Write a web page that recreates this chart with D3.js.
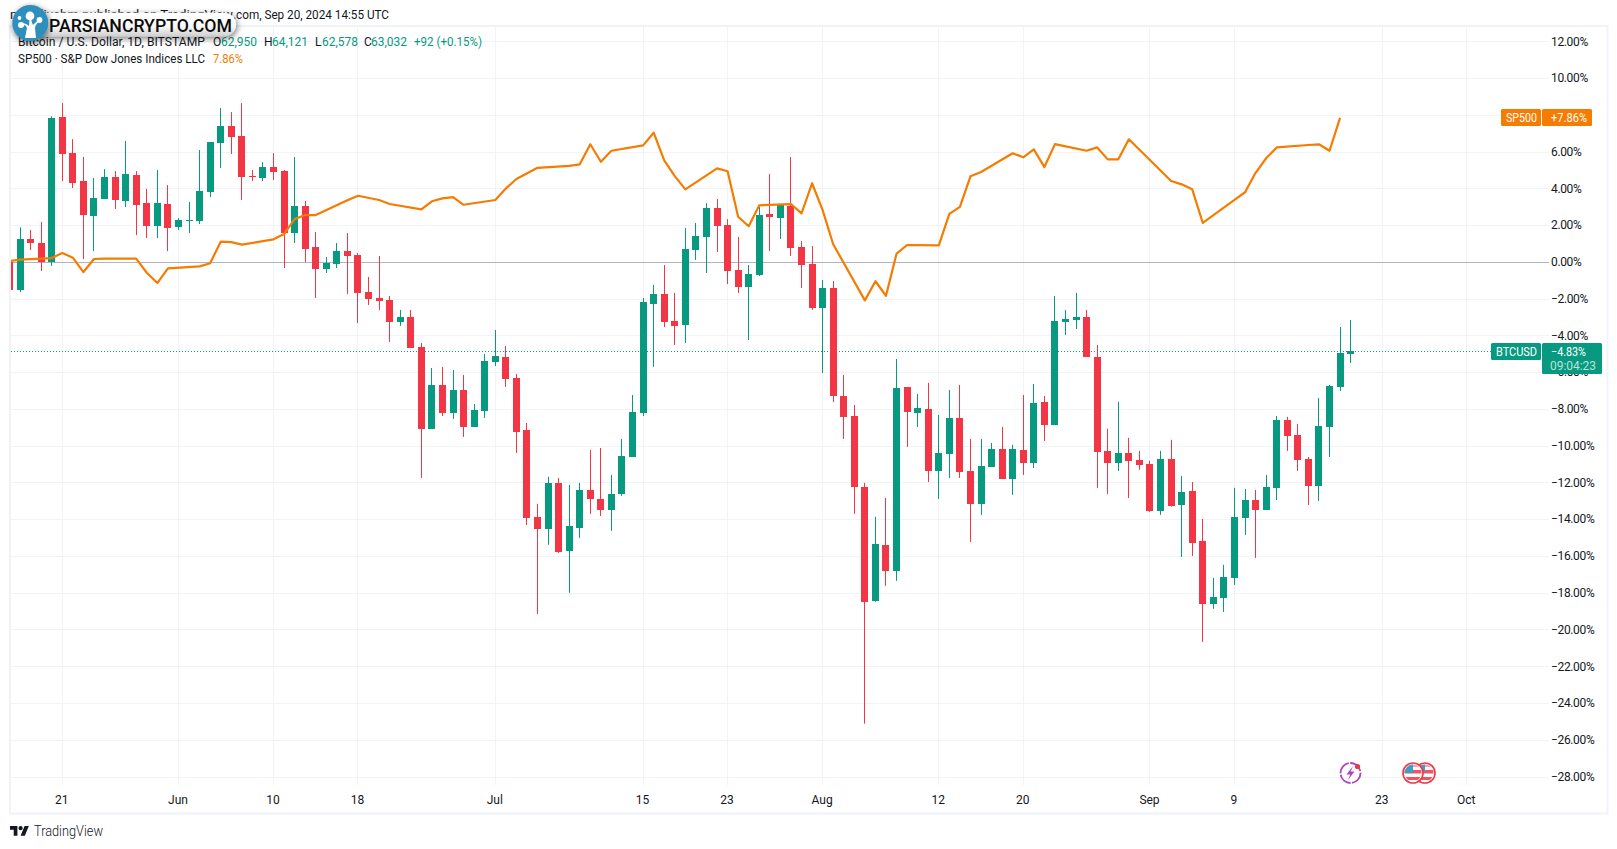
<!DOCTYPE html>
<html><head><meta charset="utf-8">
<script src="https://cdn.jsdelivr.net/npm/d3@7/dist/d3.min.js"></script>
<style>
html,body{margin:0;padding:0;background:#fff;overflow:hidden}
svg{display:block}
text{font-family:Roboto,"Liberation Sans",sans-serif;fill:#131722;font-size:12px}
</style></head><body>
<svg id="c" width="1617" height="849"></svg>
<script>
// ---- data (percent change from the first visible bar) ----
const firstDay = "2024-05-16";
const bodyTops = [0,1.27,1.27,1.05,7.85,7.9,5.94,4.42,3.5,4.64,4.64,4.8,4.75,3.22,3.22,3.17,2.3,2.3,3.88,6.54,7.41,7.41,6.87,4.69,5.18,5.18,4.96,3.06,3.06,0.83,-0.04,0.61,0.61,0.4,-1.62,-1.94,-2.05,-2.97,-2.97,-4.61,-6.67,-6.67,-6.94,-6.94,-8.03,-5.37,-5.1,-5.15,-6.29,-9.12,-13.85,-12,-12,-14.34,-12.38,-12.38,-12.87,-12.6,-10.53,-8.14,-2.16,-1.72,-1.72,-3.19,0.72,1.43,2.95,2.95,2.03,-0.42,-0.64,2.57,2.63,3.12,3.06,0.83,-0.09,-1.4,-1.4,-7.27,-8.36,-12.22,-15.32,-15.37,-6.84,-6.78,-7.92,-7.98,-10.37,-8.47,-8.47,-11.35,-11.08,-10.15,-10.15,-10.15,-10.21,-7.65,-7.6,-3.19,-3.08,-2.97,-2.97,-5.15,-10.26,-10.37,-10.37,-10.75,-10.97,-10.7,-10.7,-12.49,-12.44,-15.16,-18.2,-17.11,-13.85,-12.93,-12.93,-12.22,-8.58,-8.58,-9.39,-10.7,-8.9,-6.73,-4.93,-4.83];
const bodyBottoms = [-1.51,-1.51,1.05,0.02,0.02,5.89,4.31,2.57,2.52,3.44,3.39,3.33,3.12,1.97,1.97,1.87,1.92,2.25,2.25,3.82,6.49,6.81,4.64,4.64,4.58,4.91,1.59,1.59,0.72,-0.36,-0.36,-0.09,0.34,-1.67,-2,-2.09,-3.25,-3.25,-4.66,-9.06,-9.06,-8.2,-8.2,-8.96,-8.96,-8.09,-5.42,-6.35,-9.23,-13.9,-14.5,-14.5,-15.75,-15.7,-14.45,-12.87,-13.47,-13.47,-12.6,-10.59,-8.2,-2.27,-3.25,-3.46,-3.41,0.67,1.38,1.97,-0.47,-1.34,-1.34,-0.69,2.46,2.41,0.78,-0.15,-2.49,-2.49,-7.27,-8.41,-12.22,-18.47,-18.42,-16.79,-16.79,-8.14,-8.2,-11.35,-11.35,-10.42,-11.4,-13.14,-13.14,-11.13,-11.78,-11.78,-10.91,-10.91,-8.85,-8.85,-3.25,-3.14,-5.15,-10.32,-10.91,-10.91,-10.8,-11.02,-13.52,-13.52,-13.25,-13.2,-15.26,-18.58,-18.58,-18.25,-17.17,-13.9,-13.47,-13.47,-12.27,-9.45,-10.75,-12.17,-12.17,-8.96,-6.78,-4.99];
const highs = [0,1.9,1.76,2.19,7.94,8.66,6.7,5.73,4.58,5.07,4.96,6.6,4.96,3.99,5.02,4.2,2.41,3.28,6.11,6.54,8.39,8.17,8.66,5.02,5.45,5.94,5.02,5.73,3.33,1.65,0.29,1.05,1.59,0.51,-0.8,0.34,-1.83,-2.59,-2.59,-4.39,-5.75,-5.69,-5.86,-6.13,-7.71,-4.99,-3.68,-4.55,-6.07,-8.74,-13.14,-11.67,-11.73,-12.11,-12,-10.21,-10.1,-11.57,-9.61,-7.22,-1.94,-1.23,-0.15,-1.67,1.87,2.14,3.22,3.44,2.35,1.38,-0.15,3.01,4.8,3.17,5.73,1.16,0.89,-0.96,-1.02,-6.13,-7.76,-12,-13.85,-12.82,-5.26,-6.78,-7.16,-6.56,-8.3,-6.94,-6.67,-9.61,-9.61,-9.83,-8.96,-9.93,-7.22,-6.62,-7.27,-1.83,-2.59,-1.67,-2.59,-4.5,-9.06,-7.6,-9.55,-10.26,-10.8,-10.26,-9.66,-11.62,-11.95,-13.96,-17.17,-16.46,-12.27,-12.33,-12.38,-11.57,-8.36,-8.41,-8.79,-10.59,-7.38,-6.67,-3.52,-3.14];
const lows = [-1.51,-1.62,0.67,-0.47,-0.2,4.42,4.04,0.18,0.61,3.44,2.9,3.01,1.48,1.32,1.32,0.61,1.76,1.59,2.08,3.55,5.13,5.89,3.39,4.42,4.42,4.48,-0.31,1.05,0.02,-1.94,-0.58,-0.31,-1.72,-3.3,-2.32,-2.59,-4.33,-3.46,-4.66,-11.73,-9.06,-8.36,-8.52,-9.5,-8.96,-8.47,-5.64,-6.78,-10.37,-14.29,-19.13,-15.37,-15.81,-17.98,-14.99,-13.69,-13.8,-14.61,-12.71,-10.59,-8.36,-5.69,-3.52,-4.5,-4.39,0.13,-0.58,0.56,-1.18,-1.67,-4.23,-0.75,0.61,1.27,0.34,-1.4,-2.59,-6.02,-7.6,-9.61,-13.69,-25.1,-18.47,-17.6,-17.33,-10.04,-8.96,-11.95,-12.87,-11.73,-11.73,-15.21,-13.74,-11.13,-11.78,-12.65,-11.57,-11.19,-9.72,-8.85,-3.95,-3.63,-5.15,-12.27,-12.6,-11.35,-12.82,-11.29,-13.58,-13.74,-13.3,-16.03,-15.97,-20.65,-18.85,-19.02,-17.55,-14.83,-16.08,-13.47,-12.93,-10.26,-11.35,-13.2,-12.98,-10.59,-7,-5.48];
const rising = [0,1,0,0,1,0,0,0,1,1,0,1,0,0,1,0,1,1,1,1,1,0,0,0,1,0,0,1,0,0,1,1,0,0,0,0,0,1,0,0,1,0,1,0,1,1,1,0,0,0,0,1,0,1,1,0,0,1,1,1,1,1,0,0,1,1,1,0,0,0,1,1,0,1,0,0,0,1,0,0,0,0,1,0,1,0,1,0,1,1,0,0,1,1,0,1,0,1,0,1,1,1,0,0,0,1,0,0,0,1,0,1,0,0,1,1,1,1,0,1,1,0,0,0,1,1,1,1];
const spxDays = [0,1,4,5,6,7,8,9,12,13,14,15,18,19,20,21,22,25,26,27,28,29,32,33,35,36,39,40,41,42,43,46,47,48,50,53,54,55,56,57,60,61,62,63,64,67,68,69,70,71,74,75,76,77,78,81,82,83,84,85,88,89,90,91,92,95,96,97,98,99,102,103,104,105,106,110,111,112,113,116,117,118,119,120,123,124,125,126];
const spxValues = [0.07,0.15,0.23,0.51,0.25,-0.53,0.18,0.2,0.2,-0.57,-1.13,-0.33,-0.22,-0.05,1.12,1.1,0.96,1.25,1.54,2.35,2.57,2.57,3.37,3.62,3.39,3.17,2.88,3.32,3.48,3.55,3.13,3.39,4.01,4.53,5.14,5.25,5.33,6.42,5.47,6.07,6.36,7.05,5.55,4.69,3.97,5.11,4.95,2.48,1.96,3.1,3.17,2.66,4.3,2.84,0.98,-2.07,-1.03,-1.82,0.47,0.94,0.92,2.63,3.02,4.68,4.91,5.93,5.71,6.14,5.18,6.43,6.07,6.25,5.6,5.6,6.69,4.42,4.24,3.97,2.14,3.4,3.81,4.87,5.66,6.25,6.38,6.42,6.07,7.86];
const yTicks = [12,10,6,4,2,0,-2,-4,-6,-8,-10,-12,-14,-16,-18,-20,-22,-24,-26,-28,8];
const timeTicks = ["2024-05-21","2024-06-01","2024-06-10","2024-06-18","2024-07-01","2024-07-15","2024-07-23","2024-08-01","2024-08-12","2024-08-20","2024-09-01","2024-09-09","2024-09-23","2024-10-01"];
const timeLabels = ["21","Jun","10","18","Jul","15","23","Aug","12","20","Sep","9","23","Oct"];
const ohlcLabels = ["O","62,950","H","64,121","L","62,578","C","63,032"];
const lastBtc = -4.83, lastSpx = 7.86;

// ---- layout ----
const UP="#089981", DOWN="#f23645", ORANGE="#f57c00", GRID="#f1f3f6", FRAME="#f0f3fa";
const svg=d3.select("#c");
const plot={l:11,t:27,r:1549,b:785};
const day=i=>d3.utcDay.offset(new Date(firstDay+"T00:00:00Z"),i);
const x=d3.scaleUtc().domain([day(0),day(138)]).range([9.5,1466.8]);
const y=d3.scaleLinear().domain([0,-28]).range([262.3,777]);
const px=v=>Math.floor(v)+.5;
const fmt=v=>(v<0?"\u2212":"")+Math.abs(v).toFixed(2)+"%";

svg.append("defs").append("clipPath").attr("id","plot").append("rect")
  .attr("x",plot.l).attr("y",plot.t).attr("width",plot.r-plot.l).attr("height",plot.b-plot.t);
const pillFilter=svg.select("defs").append("filter").attr("id","sh").attr("x","-10%").attr("y","-60%").attr("width","120%").attr("height","220%");
pillFilter.append("feDropShadow").attr("dx",1).attr("dy",2).attr("stdDeviation",3).attr("flood-color","#000").attr("flood-opacity",.55);
const grad=svg.select("defs").append("linearGradient").attr("id","pg").attr("x1",0).attr("y1",0).attr("x2",0).attr("y2",1);
grad.append("stop").attr("offset",0).attr("stop-color","#ffffff");
grad.append("stop").attr("offset",.6).attr("stop-color","#f8f8f8");
grad.append("stop").attr("offset",1).attr("stop-color","#cfcfcf");

// grid
const g=svg.append("g").attr("clip-path","url(#plot)");
g.selectAll(".h").data(yTicks.filter(d=>d!==0)).join("line").attr("x1",plot.l).attr("x2",plot.r)
  .attr("y1",d=>px(y(d))).attr("y2",d=>px(y(d))).attr("stroke",GRID);
g.selectAll(".v").data(timeTicks).join("line").attr("y1",plot.t).attr("y2",plot.b)
  .attr("x1",d=>px(x(new Date(d+"T00:00:00Z")))).attr("x2",d=>px(x(new Date(d+"T00:00:00Z")))).attr("stroke",GRID);
g.append("line").attr("x1",plot.l).attr("x2",plot.r).attr("y1",px(y(0))).attr("y2",px(y(0))).attr("stroke","#b2b5be");
g.append("line").attr("x1",plot.l).attr("x2",1491).attr("y1",px(y(lastBtc))).attr("y2",px(y(lastBtc)))
  .attr("stroke",UP).attr("stroke-dasharray","1 2");

// candles
const cg=g.append("g");
const idx=d3.range(bodyTops.length);
cg.selectAll(".w").data(idx).join("line")
  .attr("x1",i=>px(x(day(i)))).attr("x2",i=>px(x(day(i))))
  .attr("y1",i=>y(highs[i])).attr("y2",i=>y(lows[i]))
  .attr("stroke",i=>rising[i]?UP:DOWN);
cg.selectAll(".b").data(idx).join("rect")
  .attr("x",i=>Math.floor(x(day(i)))-3).attr("width",7)
  .attr("y",i=>Math.round(y(bodyTops[i])))
  .attr("height",i=>Math.max(1,Math.round(y(bodyBottoms[i]))-Math.round(y(bodyTops[i]))))
  .attr("fill",i=>rising[i]?UP:DOWN);

// S&P line
g.append("path").datum(spxDays).attr("fill","none").attr("stroke",ORANGE).attr("stroke-width",2.2)
  .attr("stroke-linejoin","round")
  .attr("d",d3.line().x(i=>x(day(i))).y((_,k)=>y(spxValues[k])));

// frame
svg.append("rect").attr("x",10).attr("y",26).attr("width",1597.5).attr("height",787.5)
  .attr("fill","none").attr("stroke",FRAME).attr("stroke-width",2);

// axes
const ya=svg.append("g").attr("transform","translate(1551,-0.5)")
  .call(d3.axisRight(y).tickValues(yTicks.filter(d=>d!==8)).tickFormat(fmt).tickSize(0).tickPadding(0));
ya.select(".domain").remove();
ya.selectAll("text").attr("fill","#131722").style("font-size","12px").style("letter-spacing","-.35px");
const xa=svg.append("g").attr("transform","translate(-1,791)")
  .call(d3.axisBottom(x).tickValues(timeTicks.map(d=>new Date(d+"T00:00:00Z"))).tickFormat((_,i)=>timeLabels[i]).tickSize(0).tickPadding(4));
xa.select(".domain").remove();
xa.selectAll("text").attr("fill","#131722").style("font-size","12px");

// event icons
const ev=svg.append("g");
ev.append("circle").attr("cx",1350.5).attr("cy",773).attr("r",10).attr("fill","#fff").attr("stroke","#ab47bc").attr("stroke-width",1.8).attr("stroke-dasharray","14 1.5");
ev.append("path").attr("d","M1353 766L1346.5 774.5H1350.3L1348 780L1354.5 771.5H1350.7Z").attr("fill","#ab47bc");
ev.append("circle").attr("cx",1357.5).attr("cy",766.5).attr("r",2.6).attr("fill",DOWN);
[1425,1413].forEach((cx,n)=>{
  const id="fl"+n;
  svg.select("defs").append("clipPath").attr("id",id).append("circle").attr("cx",cx).attr("cy",773).attr("r",8.5);
  const f=ev.append("g");
  f.append("circle").attr("cx",cx).attr("cy",773).attr("r",10).attr("fill","#fff").attr("stroke",DOWN).attr("stroke-width",1.6);
  const c=f.append("g").attr("clip-path",`url(#${id})`);
  c.append("rect").attr("x",cx-10).attr("y",764).attr("width",20).attr("height",3).attr("fill","#f7a4ab");
  c.append("rect").attr("x",cx-10).attr("y",770).attr("width",20).attr("height",3.5).attr("fill","#f2545f");
  c.append("rect").attr("x",cx-10).attr("y",777).attr("width",20).attr("height",3).attr("fill","#f2545f");
  c.append("rect").attr("x",cx-10).attr("y",763).attr("width",10).attr("height",10).attr("fill","#3aa0c8");
});

// price labels
function tag(xx,yy,w,h,fill){svg.append("rect").attr("x",xx).attr("y",yy).attr("width",w).attr("height",h).attr("rx",1.5).attr("fill",fill);}
function lab(str,xx,yy,fill,len){const t=svg.append("text").attr("x",xx).attr("y",yy).style("fill",fill).text(str);
  if(len) t.attr("textLength",len).attr("lengthAdjust","spacingAndGlyphs"); return t;}
tag(1501,109,40,17,ORANGE); tag(1542,109,50,17,ORANGE);
lab("SP500",1506,122,"#fff",31);
lab("+"+lastSpx.toFixed(2)+"%",1551,122,"#fff",36);
tag(1491,343,50,17,UP); tag(1542,343,60,31,UP);
lab("BTCUSD",1496,355.5,"#fff",41);
lab(fmt(lastBtc),1551,355.5,"#fff",35);
lab("09:04:23",1550,370,"#b8e3db",46);

// header and legend
lab("mahdiyehm published on TradingView",10,19,"#131722",223);
lab(".com, Sep 20, 2024 14:55 UTC",233,19,"#131722",156);
lab("Bitcoin / U.S. Dollar, 1D, BITSTAMP",18,46,"#131722",187);
const ox=[213,221,264,272,315,322,364,371];
ohlcLabels.forEach((s,i)=>lab(s,ox[i],46,i%2?UP:"#131722",i%2?36:0));
lab("+92 (+0.15%)",414,46,UP,68);
lab("SP500 \u00b7 S&P Dow Jones Indices LLC",18,63,"#131722",187);
lab(lastSpx.toFixed(2)+"%",213,63,ORANGE,30);

// watermark
const wm=svg.append("g");
wm.append("rect").attr("x",16).attr("y",12.7).attr("width",220).attr("height",23.5).attr("rx",11.7).attr("fill","url(#pg)").attr("filter","url(#sh)");
wm.append("circle").attr("cx",30.3).attr("cy",23).attr("r",18).attr("fill","#2f8fbd").attr("filter","url(#sh)");
wm.append("path").attr("d","M25 38L27 28C26 25 23 24 21 24L21.5 23C24 23 27 24 29 26C29 23 29.5 20 30 17H31C31 20 32 23 33 25C35 23 37 21 39 20L39.5 21C37 23 35 26 35 28L36 38Z").attr("fill","#fff");
[[30,16,4.4],[21,25,3],[39.5,20,2.9],[19.5,18,1.9]].forEach(c=>wm.append("circle").attr("cx",c[0]).attr("cy",c[1]).attr("r",c[2]).attr("fill","#fff"));
wm.append("text").attr("x",49).attr("y",31.7).attr("textLength",183).attr("lengthAdjust","spacingAndGlyphs")
  .style("font-size","17.5px").style("font-weight","500").style("fill","#0b0b0b").text("PARSIANCRYPTO.COM");

// footer logo
svg.append("path").attr("transform","translate(10,824) scale(.53)")
  .attr("d","M14 22H7V11H0V4h14v18zM28 22h-8l7.5-18h8L28 22zM20 4a4 4 0 1 1 0 8a4 4 0 0 1 0-8z").attr("fill","#131722");
svg.append("text").attr("x",34).attr("y",836).attr("textLength",69).attr("lengthAdjust","spacingAndGlyphs").style("font-size","14px").style("font-weight","300").text("TradingView");
</script>
</body></html>
